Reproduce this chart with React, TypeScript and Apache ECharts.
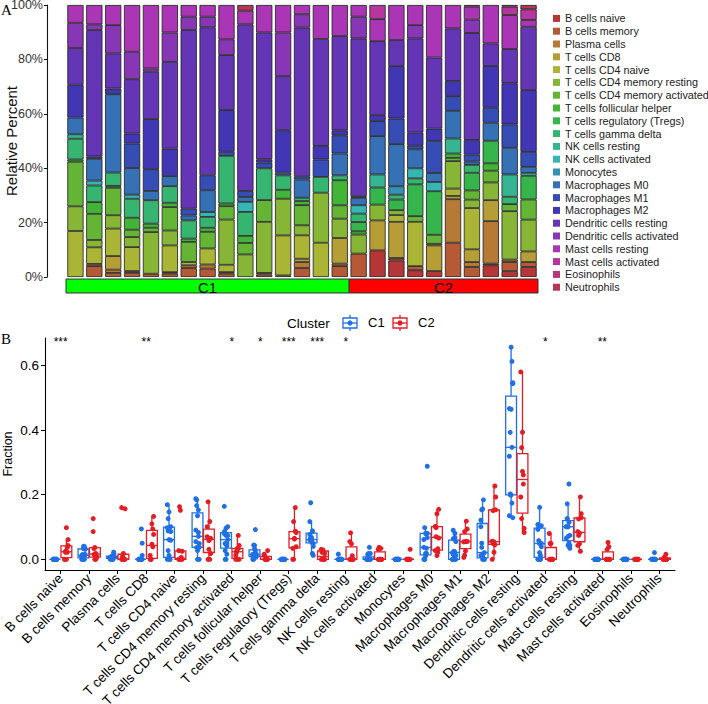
import { useEffect, useRef } from "react";
import * as echarts from "echarts";

const FONT = "'Liberation Sans', Arial, Helvetica, sans-serif";

const cellTypes = [
  "B cells naive", "B cells memory", "Plasma cells", "T cells CD8", "T cells CD4 naive",
  "T cells CD4 memory resting", "T cells CD4 memory activated", "T cells follicular helper",
  "T cells regulatory (Tregs)", "T cells gamma delta", "NK cells resting", "NK cells activated",
  "Monocytes", "Macrophages M0", "Macrophages M1", "Macrophages M2", "Dendritic cells resting",
  "Dendritic cells activated", "Mast cells resting", "Mast cells activated", "Eosinophils", "Neutrophils",
];

// 25 samples: 15 in C1, 10 in C2
const sampleCluster = [
  "C1", "C1", "C1", "C1", "C1", "C1", "C1", "C1", "C1", "C1", "C1", "C1", "C1", "C1", "C1",
  "C2", "C2", "C2", "C2", "C2", "C2", "C2", "C2", "C2", "C2",
];
const clusterNames = ["C1", "C2"];
const percentTicks = [0, 20, 40, 60, 80, 100];
const fractionTicks = [0, 0.2, 0.4, 0.6];
const significance = ["***", "", "", "**", "", "", "*", "*", "***", "***", "*", "", "", "", "", "", "", "*", "", "**", "", ""];

// Relative percent of each cell type per sample
const bCellsNaive = [0, 0, 0, 0, 0, 0, 0, 0, 0, 0, 0, 0, 0, 0, 0, 0, 9.8, 6.1, 2.5, 2.2, 0, 0, 4.3, 2.2, 3.7];
const bCellsMemory = [0, 4.0, 1.5, 1.5, 1.2, 1.2, 3.3, 3.1, 1.2, 0, 0.9, 0, 3.3, 0, 4.0, 8.6, 0, 0.9, 1.5, 0, 12.6, 3.7, 0.6, 3.3, 1.8];
const plasmaCells = [0, 0.8, 1.2, 0.7, 0, 0.6, 1.0, 1.5, 0.6, 0, 0.6, 0.6, 2.2, 0, 0.9, 0, 0, 0, 0, 0, 16.0, 1.8, 15.6, 0.9, 0];
const tCellsCD8 = [0, 0, 5.0, 0, 0, 0, 0, 0, 0, 0, 0, 0, 1.2, 0, 9.4, 0, 11.0, 13.3, 0, 9.4, 1.2, 4.7, 7.7, 0, 3.9];
const tCellsCD4Naive = [16.8, 6.1, 10.1, 8.8, 0, 9.8, 1.2, 5.9, 2.7, 0, 0, 14.7, 8.6, 12.6, 0, 0, 0, 2.5, 16.3, 0.6, 2.7, 15.2, 0, 0, 0];
const tCellsCD4MemResting = [9.0, 2.7, 4.9, 3.7, 15.3, 5.5, 0, 0, 16.6, 8.3, 18.8, 13.5, 3.7, 18.4, 7.1, 7.0, 5.8, 1.8, 0, 0, 10.1, 3.1, 6.5, 17.8, 11.7];
const tCellsCD4MemActivated = [16.3, 9.6, 10.1, 2.7, 1.6, 8.6, 7.4, 6.1, 4.9, 4.2, 8.0, 0, 7.4, 0, 4.9, 0, 0, 0, 2.1, 3.3, 1.2, 3.4, 4.3, 2.6, 7.4];
const tCellsFollicular = [0.8, 4.3, 0.7, 4.4, 1.5, 1.6, 1.2, 1.5, 1.0, 2.6, 0, 3.3, 1.5, 0, 9.2, 1.2, 0, 0, 0, 0, 1.6, 0, 2.7, 0, 0];
const tCellsTregs = [0, 0, 0, 0, 0, 0, 0, 0, 0, 0, 0, 0, 0, 0, 0, 3.4, 6.3, 3.9, 11.7, 16.0, 0, 6.5, 8.3, 0, 8.7];
const tCellsGammaDelta = [7.6, 6.1, 4.9, 7.0, 8.6, 6.1, 6.7, 4.0, 17.5, 8.8, 11.7, 5.3, 1.2, 5.8, 1.8, 3.1, 0, 1.8, 2.2, 0, 0, 2.9, 0, 2.7, 0];
const nkResting = [1.6, 0, 0, 0, 0, 0, 0, 0, 0, 0, 0, 0, 0, 0, 0, 0, 4.8, 0, 0, 0, 5.5, 0, 0, 8.2, 1.1];
const nkActivated = [0, 1.8, 0, 1.5, 0, 0, 0, 1.8, 0, 3.7, 0, 0, 0, 0, 0, 3.1, 0, 0, 3.7, 3.4, 0, 0, 0, 0, 0];
const monocytes = [0, 0, 0, 0, 0, 0, 0, 0, 0, 0, 0, 0, 0, 0, 0, 0, 0, 3.1, 0, 0, 0, 0, 0, 0, 0];
const macrophagesM0 = [6.1, 8.0, 28.8, 9.8, 3.4, 3.7, 1.8, 8.0, 0, 1.8, 0, 1.0, 6.7, 0, 8.0, 2.7, 14.1, 15.5, 7.0, 3.3, 10.2, 1.2, 6.6, 9.8, 2.2];
const macrophagesM1 = [0, 0, 0, 9.0, 8.0, 0, 2.5, 5.5, 1.5, 2.2, 2.1, 0, 1.2, 6.4, 6.7, 0.6, 5.5, 9.4, 1.3, 11.8, 5.4, 2.6, 5.5, 8.6, 5.5];
const macrophagesM2 = [12.0, 0.9, 2.1, 3.7, 18.4, 10.1, 0, 0, 15.3, 0, 1.2, 15.6, 0, 5.0, 1.8, 0, 2.2, 19.3, 4.9, 4.5, 5.6, 5.4, 15.3, 15.1, 22.7];
const dcResting = [13.4, 46.4, 12.9, 20.0, 17.4, 31.9, 65.6, 54.4, 20.2, 61.2, 46.7, 19.9, 54.6, 39.3, 34.6, 58.0, 27.2, 9.6, 34.6, 26.1, 19.3, 39.4, 8.3, 12.6, 23.3];
const dcActivated = [9.2, 2.1, 10.4, 10.1, 1.2, 10.8, 4.9, 3.9, 5.8, 0, 0, 16.1, 4.9, 0, 0, 8.0, 0, 0, 4.9, 0, 0, 4.9, 0, 0, 0];
const mastResting = [6.5, 7.1, 7.4, 17.2, 23.3, 10.1, 4.3, 4.3, 12.6, 5.0, 10.1, 10.1, 3.4, 12.5, 11.4, 4.3, 8.1, 12.9, 7.4, 19.3, 8.6, 4.8, 14.1, 12.5, 2.5];
const mastActivated = [0, 0, 0, 0, 0, 0, 0, 0, 0, 0, 0, 0, 0, 0, 0, 0, 5.2, 0, 0, 0, 0, 0, 0, 3.1, 3.9];
const eosinophils = [0, 0, 0, 0, 0, 0, 0, 0, 0, 0, 0, 0, 0, 0, 0, 0, 0, 0, 0, 0, 0, 0, 0, 0, 0];
const neutrophils = [0, 0, 0, 0, 0, 0, 0, 0, 0, 2.1, 0, 0, 0, 0, 0, 0, 0, 0, 0, 0, 0, 0.6, 0, 0.6, 1.6];

const cellValues = [
  bCellsNaive, bCellsMemory, plasmaCells, tCellsCD8, tCellsCD4Naive, tCellsCD4MemResting,
  tCellsCD4MemActivated, tCellsFollicular, tCellsTregs, tCellsGammaDelta, nkResting, nkActivated,
  monocytes, macrophagesM0, macrophagesM1, macrophagesM2, dcResting, dcActivated, mastResting,
  mastActivated, eosinophils, neutrophils,
];

function hsvHex(h: number, s: number, v: number) {
  const f = (n: number) => {
    const k = (n + h / 60) % 6;
    const c = v - v * s * Math.max(0, Math.min(k, 4 - k, 1));
    return Math.round(c * 255).toString(16).padStart(2, "0");
  };
  return "#" + f(5) + f(3) + f(1);
}

const palette = cellTypes.map((_, i) => hsvHex((360 * i) / 22, 0.7, 0.71));
const clusterColor: Record<string, string> = { C1: "#1F6FE6", C2: "#E41D24" };
const annColor: Record<string, string> = { C1: "#00FF00", C2: "#FF0000" };

function quantile(s: number[], p: number) {
  const h = (s.length - 1) * p;
  const lo = Math.floor(h);
  const hi = Math.ceil(h);
  return s[lo] + (h - lo) * (s[hi] - s[lo]);
}
function boxStats(vals: number[]) {
  const s = [...vals].sort((a, b) => a - b);
  const q1 = quantile(s, 0.25), med = quantile(s, 0.5), q3 = quantile(s, 0.75);
  const iqr = q3 - q1;
  const lo = s.find((v) => v >= q1 - 1.5 * iqr) as number;
  const hi = [...s].reverse().find((v) => v <= q3 + 1.5 * iqr) as number;
  return [lo, q1, med, q3, hi];
}

export default function App() {
  const ref = useRef<HTMLDivElement>(null);
  useEffect(() => {
    if (!ref.current) return;
    const chart = echarts.init(ref.current, undefined, { renderer: "svg" });
    const nS = sampleCluster.length;
    const totals = sampleCluster.map((_, k) => cellValues.reduce((a, arr) => a + arr[k], 0));
    const sampleIds = sampleCluster.map((_, k) => "S" + (k + 1));

    // annotation runs
    const runs: number[][] = [];
    sampleCluster.forEach((c, k) => {
      const ci = clusterNames.indexOf(c);
      const last = runs[runs.length - 1];
      if (last && last[2] === ci) last[1] = k;
      else runs.push([k, k, ci]);
    });

    const barSeries = cellTypes.map((name, j) => ({
      name,
      type: "bar",
      stack: "total",
      xAxisIndex: 0,
      yAxisIndex: 0,
      barCategoryGap: "14%",
      itemStyle: { color: palette[j], borderColor: "#1c1c1c", borderWidth: 0.8 },
      emphasis: { disabled: true },
      data: cellValues[j].map((v, k) => (v > 0 ? (v / totals[k]) * 100 : "-")),
    }));

    const boxData: number[][] = [];
    const pointData: number[][][] = [[], []];
    cellTypes.forEach((_, i) => {
      clusterNames.forEach((c, ci) => {
        const xs = i + (ci === 0 ? -0.2 : 0.2);
        const vals: number[] = [];
        let m = 0;
        sampleCluster.forEach((sc, k) => {
          if (sc !== c) return;
          const f = cellValues[i][k] / totals[k];
          vals.push(f);
          const jit = (((m * 2) % 5) - 2) * 0.03;
          pointData[ci].push([xs + jit, f]);
          m++;
        });
        boxData.push([xs, ...boxStats(vals), ci]);
      });
    });

    const catIdx = cellTypes.map((_, i) => i);
    const gridBase = { outerBoundsMode: "none", containLabel: false };

    const option: any = {
      animation: false,
      textStyle: { fontFamily: FONT },
      legend: {
        data: cellTypes,
        orient: "vertical",
        left: 548,
        top: 7,
        itemWidth: 7,
        itemHeight: 7,
        itemGap: 0,
        icon: "rect",
        selectedMode: false,
        itemStyle: { borderWidth: 0 },
        textStyle: { fontSize: 10.8, lineHeight: 12.8, color: "#222", fontFamily: FONT, padding: [0, 0, 0, 0] },
      },
      grid: [
        { ...gridBase, left: 66, right: 170, top: 5, bottom: 427 },
        { ...gridBase, left: 66, right: 170, top: 279, height: 14 },
        { ...gridBase, left: 45, right: 33, top: 338, bottom: 134 },
        { ...gridBase, left: 47, width: 1, top: 5, bottom: 427 },
      ],
      xAxis: [
        { type: "category", gridIndex: 0, data: sampleIds, show: false },
        { type: "value", gridIndex: 1, min: -0.5, max: nS - 0.5, show: false },
        {
          type: "value", gridIndex: 2, min: -0.55, max: cellTypes.length - 1 + 0.55,
          splitLine: { show: false },
          axisLine: { show: true, onZero: false, lineStyle: { color: "#000", width: 1.1 } },
          axisTick: { show: true, customValues: catIdx, length: 4, lineStyle: { color: "#000" } },
          axisLabel: {
            customValues: catIdx, rotate: 45, fontSize: 13.5, color: "#000", margin: 6,
            formatter: (v: number) => cellTypes[Math.round(v)] ?? "",
          },
        },
        { type: "value", gridIndex: 3, min: 0, max: 1, show: false },
      ],
      yAxis: [
        { type: "value", gridIndex: 0, min: 0, max: 100, show: false },
        { type: "value", gridIndex: 1, min: 0, max: 1, show: false },
        {
          type: "value", gridIndex: 2, min: -0.033, max: 0.685,
          splitLine: { show: false },
          axisLine: { show: true, onZero: false, lineStyle: { color: "#000", width: 1.1 } },
          axisTick: { show: true, customValues: fractionTicks, length: 4, lineStyle: { color: "#000" } },
          axisLabel: { customValues: fractionTicks, formatter: (v: number) => v.toFixed(1), fontSize: 13.5, color: "#000", margin: 6 },
          name: "Fraction", nameLocation: "middle", nameGap: 31, nameRotate: 90, nameMoveOverlap: false,
          nameTextStyle: { fontSize: 12.5, color: "#000" },
        },
        {
          type: "value", gridIndex: 3, min: 0, max: 100, interval: 20,
          splitLine: { show: false },
          axisLine: { show: true, onZero: false, lineStyle: { color: "#111", width: 1.1 } },
          axisTick: { show: true, length: 3, lineStyle: { color: "#111" } },
          axisLabel: { formatter: (v: number) => (percentTicks.includes(v) ? v + "%" : ""), fontSize: 12.5, color: "#333", margin: 4 },
          name: "Relative Percent", nameLocation: "middle", nameGap: 28, nameRotate: 90, nameMoveOverlap: false,
          nameTextStyle: { fontSize: 15, color: "#111" },
        },
      ],
      series: [
        ...barSeries,
        {
          type: "custom",
          name: "annotation",
          xAxisIndex: 1,
          yAxisIndex: 1,
          silent: true,
          data: runs,
          renderItem: (_p: any, api: any) => {
            const s = api.value(0), e = api.value(1);
            const label = clusterNames[api.value(2)];
            const p0 = api.coord([s - 0.5, 1]);
            const p1 = api.coord([e + 0.5, 0]);
            return {
              type: "group",
              children: [
                { type: "rect", shape: { x: p0[0], y: p0[1], width: p1[0] - p0[0], height: p1[1] - p0[1] }, style: { fill: annColor[label], stroke: "#333", lineWidth: 1 } },
                { type: "text", x: (p0[0] + p1[0]) / 2, y: (p0[1] + p1[1]) / 2 + 1, style: { text: label, align: "center", verticalAlign: "middle", fontSize: 15, fontFamily: FONT, fill: "#000" } },
              ],
            };
          },
        },
        {
          type: "custom",
          name: "boxes",
          xAxisIndex: 2,
          yAxisIndex: 2,
          silent: true,
          data: boxData,
          renderItem: (_p: any, api: any) => {
            const x = api.value(0);
            const col = clusterColor[clusterNames[api.value(6)]];
            const pLo = api.coord([x, api.value(1)]);
            const pQ1 = api.coord([x, api.value(2)]);
            const pMed = api.coord([x, api.value(3)]);
            const pQ3 = api.coord([x, api.value(4)]);
            const pHi = api.coord([x, api.value(5)]);
            const l = api.coord([x - 0.19, 0])[0];
            const r = api.coord([x + 0.19, 0])[0];
            const st = { stroke: col, lineWidth: 1.3, fill: "none" };
            return {
              type: "group",
              children: [
                { type: "line", shape: { x1: pQ3[0], y1: pQ3[1], x2: pHi[0], y2: pHi[1] }, style: st },
                { type: "line", shape: { x1: pQ1[0], y1: pQ1[1], x2: pLo[0], y2: pLo[1] }, style: st },
                { type: "rect", shape: { x: l, y: pQ3[1], width: r - l, height: pQ1[1] - pQ3[1] }, style: { stroke: col, lineWidth: 1.3, fill: "#fff" } },
                { type: "line", shape: { x1: l, y1: pMed[1], x2: r, y2: pMed[1] }, style: st },
              ],
            };
          },
        },
        ...clusterNames.map((c, ci) => ({
          type: "scatter",
          name: c,
          xAxisIndex: 2,
          yAxisIndex: 2,
          symbol: "circle",
          symbolSize: 5,
          silent: true,
          itemStyle: { color: clusterColor[c], opacity: 1 },
          data: pointData[ci],
        })),
        {
          type: "custom",
          name: "signif",
          xAxisIndex: 2,
          yAxisIndex: 2,
          silent: true,
          data: significance.map((s, i) => [i, 0.673, s ? s.length : 0]).filter((d) => d[2] > 0),
          renderItem: (_p: any, api: any) => {
            const p = api.coord([api.value(0), api.value(1)]);
            return { type: "text", x: p[0], y: p[1], style: { text: "*".repeat(api.value(2)), align: "center", verticalAlign: "middle", fontSize: 12, fontFamily: FONT, fill: "#000" } };
          },
        },
      ],
      graphic: [
        { type: "text", left: 1, top: 2, style: { text: "A", fontSize: 15, fontFamily: "'Liberation Serif', 'Times New Roman', serif", fill: "#000" } },
        { type: "text", left: 1, top: 331, style: { text: "B", fontSize: 15, fontFamily: "'Liberation Serif', 'Times New Roman', serif", fill: "#000" } },
        { type: "text", left: 287, top: 316, style: { text: "Cluster", fontSize: 13.5, fontFamily: FONT, fill: "#000" } },
        ...clusterNames.map((c, ci) => ({
          type: "group",
          x: 350 + ci * 50,
          y: 323,
          children: [
            { type: "line", shape: { x1: 0, y1: -8, x2: 0, y2: 8 }, style: { stroke: clusterColor[c], lineWidth: 1.3 } },
            { type: "rect", shape: { x: -7, y: -5, width: 14, height: 10 }, style: { stroke: clusterColor[c], lineWidth: 1.3, fill: "#fff" } },
            { type: "line", shape: { x1: -7, y1: 0, x2: 7, y2: 0 }, style: { stroke: clusterColor[c], lineWidth: 1.3 } },
            { type: "circle", shape: { cx: 0, cy: 0, r: 2.6 }, style: { fill: clusterColor[c] } },
          ],
        })),
        ...clusterNames.map((c, ci) => ({
          type: "text", left: 368 + ci * 50, top: 316, style: { text: c, fontSize: 13, fontFamily: FONT, fill: "#000" },
        })),
      ],
    };
    chart.setOption(option);
    return () => chart.dispose();
  }, []);
  return <div ref={ref} style={{ position: "fixed", left: 0, top: 0, width: 708, height: 704, background: "#fff" }} />;
}
